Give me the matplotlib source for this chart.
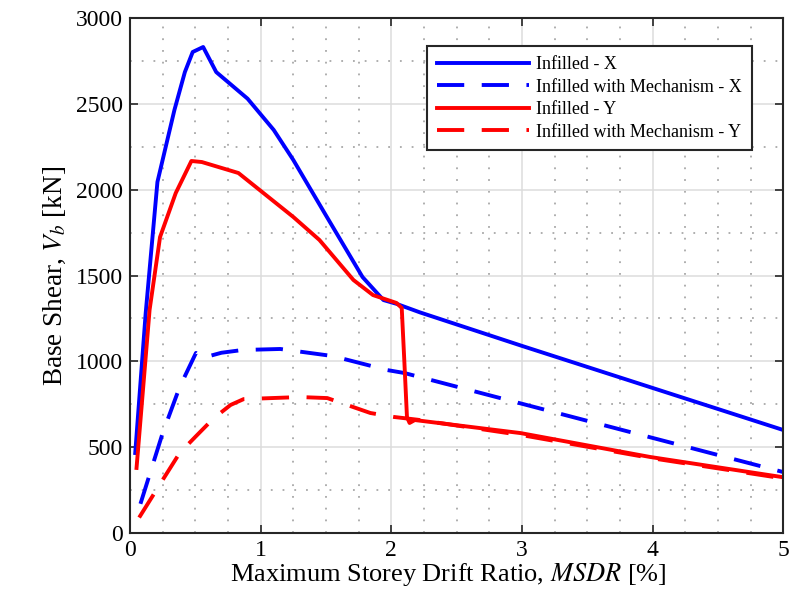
import matplotlib
matplotlib.use('Agg')
import matplotlib.pyplot as plt
from matplotlib.ticker import MultipleLocator

plt.rcParams['font.family'] = ['Liberation Serif', 'DejaVu Serif']
plt.rcParams['mathtext.fontset'] = 'stix'

# pushover curves, drift in %, base shear in kN
drift_inf_x = [0.04, 0.12, 0.21, 0.34, 0.42, 0.48, 0.56, 0.66, 0.90, 1.10, 1.25, 1.50, 1.78, 1.94, 2.04, 2.22, 3.00, 5.00]
shear_inf_x = [466, 1280, 2045, 2464, 2685, 2802, 2831, 2685, 2530, 2348, 2173, 1850, 1491, 1357, 1335, 1285, 1090, 600]

drift_mech_x = [0.08, 0.25, 0.38, 0.505, 0.55, 0.70, 0.86, 1.15, 1.55, 1.97, 2.10, 5.00]
shear_mech_x = [170, 582, 850, 1049, 1019, 1050, 1066, 1072, 1031, 949, 932, 355]

drift_inf_y = [0.05, 0.15, 0.23, 0.35, 0.47, 0.55, 0.83, 1.25, 1.45, 1.71, 1.86, 2.04, 2.08, 2.10, 2.12, 2.14, 2.18, 2.50, 2.99, 3.98, 4.99]
shear_inf_y = [379, 1300, 1724, 1980, 2167, 2161, 2097, 1841, 1707, 1474, 1386, 1340, 1311, 1000, 676, 641, 658, 628, 582, 443, 326]

drift_mech_y = [0.07, 0.25, 0.38, 0.50, 0.64, 0.77, 0.87, 1.30, 1.51, 1.84, 2.02, 2.20, 3.00, 4.00, 5.00]
shear_mech_y = [90, 309, 466, 560, 668, 746, 780, 792, 786, 699, 676, 660, 570, 435, 318]

fig = plt.figure(figsize=(8, 5.96), dpi=100)
ax = fig.add_axes([0.1625, 0.1057, 0.8165, 0.8641])

lw = 2.8
dash = (0, (7, 4.5))
ax.plot(drift_inf_x, shear_inf_x, color='#0000ff', lw=lw, label='Infilled - X')
ax.plot(drift_mech_x, shear_mech_x, color='#0000ff', lw=lw, ls=dash, label='Infilled with Mechanism - X')
ax.plot(drift_inf_y, shear_inf_y, color='#ff0000', lw=lw, label='Infilled - Y')
ax.plot(drift_mech_y, shear_mech_y, color='#ff0000', lw=lw, ls=dash, label='Infilled with Mechanism - Y')

ax.set_xlim(0, 5)
ax.set_ylim(0, 3000)
ax.xaxis.set_major_locator(MultipleLocator(1))
ax.xaxis.set_minor_locator(MultipleLocator(0.25))
ax.yaxis.set_major_locator(MultipleLocator(500))
ax.yaxis.set_minor_locator(MultipleLocator(250))

ax.grid(which='major', color='#dcdcdc', lw=1.1, ls='-')
ax.grid(which='minor', color='#a8a8a8', lw=1.3, ls=(0, (1, 5.5)))
ax.set_axisbelow(True)

ax.tick_params(which='major', direction='in', length=6, width=1.2, top=True, right=True,
               labelsize=17, colors='#262626', labelcolor='black', pad=5)
ax.tick_params(which='minor', length=0)
for s in ax.spines.values():
    s.set_linewidth(1.5)
    s.set_color('#262626')

ax.set_xlabel(r'Maximum Storey Drift Ratio, $\mathit{MSDR}$ [%]', fontsize=19, labelpad=0)
ax.xaxis.set_label_coords(0.487, -0.055)
ax.set_ylabel(r'Base Shear, $V_b$ [kN]', fontsize=19.5, labelpad=6)

leg = ax.legend(loc='upper right', bbox_to_anchor=(0.952, 0.945), fontsize=13,
                handlelength=5.1, frameon=True, fancybox=False, borderpad=0.55,
                labelspacing=0.3, handletextpad=0.4, borderaxespad=0)
leg.get_frame().set_edgecolor('#262626')
leg.get_frame().set_linewidth(1.5)
leg.get_frame().set_alpha(1)

fig.savefig('out.png', dpi=100)
